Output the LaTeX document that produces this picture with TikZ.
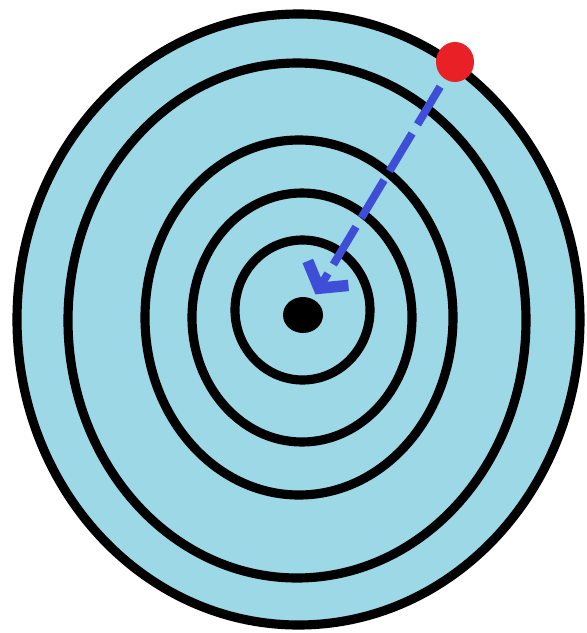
\documentclass[tikz,border=0pt]{standalone}
\usepackage{xcolor}
\usepackage{tikz}
\usetikzlibrary{arrows.meta,shapes.geometric}
\definecolor{targetblue}{HTML}{9DD8E7}
\definecolor{targetred}{HTML}{EA2027}
\definecolor{aimblue}{HTML}{3F4ED6}

\begin{document}
\begin{tikzpicture}[
  x=0.02cm, y=-0.02cm,
  ring/.style={draw=black, line width=5.2pt},
  shooter/.style={ellipse, fill=targetred, minimum width=38*0.02cm, minimum height=40*0.02cm, inner sep=0pt},
  bullseye/.style={ellipse, fill=black, minimum width=40*0.02cm, minimum height=36*0.02cm, inner sep=0pt},
  aim/.style={draw=aimblue, line width=4.5pt, dash pattern=on 25pt off 6pt,
              -{Straight Barb[length=10pt, width=27pt, line width=6.5pt]},
              shorten <=5pt, shorten >=3pt}
]
\useasboundingbox (0,0) rectangle (587,633);
\fill[white] (0,0) rectangle (587,633);

% target face
\fill[targetblue] (298.5,319.5) ellipse [x radius=281.5, y radius=305.5];
\foreach \cx/\cy/\rx/\ry in {298.5/319.5/281.5/305.5, 297/320.5/229/257.5,
                             299/317.5/154/177.5, 302/317.5/110/124.5, 302.5/310/67.5/70}
  \draw[ring] (\cx,\cy) ellipse [x radius=\rx, y radius=\ry];

\node[bullseye] (centre) at (303,315) {};
\node[shooter] (start) at (455,62) {};

\draw[aim] (start) -- (centre);
\end{tikzpicture}
\end{document}
